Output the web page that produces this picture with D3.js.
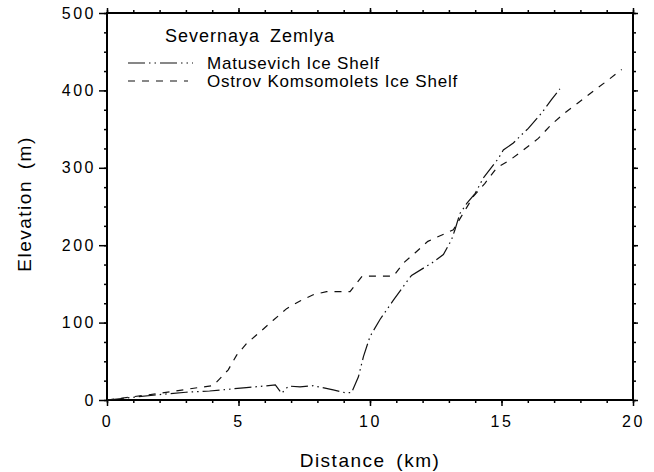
<!DOCTYPE html>
<html>
<head>
<meta charset="utf-8">
<script src="https://cdn.jsdelivr.net/npm/d3@7"></script>
<style>
  body { margin: 0; background: #fff; }
  svg { font-family: "Liberation Sans", Arial, Helvetica, sans-serif; }
</style>
</head>
<body>
<div id="chart"></div>
<script>
// Matusevich Ice Shelf profile
var matDist = [0, 2.0, 3.0, 3.9, 5.3, 6.4, 6.64, 6.9, 7.34, 7.84, 8.6, 9.05, 9.3, 9.56, 9.75, 10.0, 10.38, 10.89, 11.4, 11.58, 12.35, 12.79, 13.1, 13.23, 13.42, 13.68, 14.0, 14.31, 14.88, 15.07, 15.45, 15.77, 16.02, 16.53, 16.9, 17.22];
var matElev = [0, 7, 10, 11.6, 16, 19.4, 8.6, 18, 17, 18.5, 13, 9.5, 9.5, 30, 56, 82, 104, 129, 153, 161, 177, 188, 207, 220, 241, 254, 267, 287, 312, 323, 332, 343, 351, 371, 388, 402];

// Ostrov Komsomolets Ice Shelf profile
var ostDist = [0, 2.0, 3.54, 4.04, 4.61, 4.93, 5.31, 5.82, 6.32, 6.83, 7.34, 7.84, 8.35, 9.24, 9.49, 9.7, 10.89, 11.27, 11.71, 12.2, 12.85, 13.17, 13.93, 14.37, 14.82, 15.32, 15.83, 16.4, 16.9, 17.41, 17.92, 18.49, 19.0, 19.57];
var ostElev = [0, 8.6, 16.4, 18.5, 39, 58, 73, 88, 103, 118, 128, 136, 140, 140, 151, 160, 160, 177, 190, 205, 215, 220, 263, 280, 300, 310, 323, 338, 356, 371, 384, 399, 412, 427];

var seriesNames = ["Matusevich Ice Shelf", "Ostrov Komsomolets Ice Shelf"];
var legendTitle = "Severnaya Zemlya";
var xTicks = [0, 5, 10, 15, 20];
var yTicks = [0, 100, 200, 300, 400, 500];
var xMinor = d3.range(0, 21, 1);
var yMinor = d3.range(0, 501, 25);

var width = 654, height = 472;
var margin = {left: 107, right: 21, top: 13, bottom: 72};

var svg = d3.select("#chart").append("svg")
    .attr("width", width)
    .attr("height", height);

var x = d3.scaleLinear().domain([0, 20]).range([margin.left, width - margin.right]);
var y = d3.scaleLinear().domain([0, 500]).range([height - margin.bottom, margin.top]);

var dashMat = "17,4,1.5,4,1.5,4";
var dashOst = "7,7";

// minor ticks on all four sides
function minorAxis(axis, scale, vals) {
    return axis(scale).tickValues(vals).tickSize(3).tickFormat("");
}
svg.append("g").attr("transform", "translate(0," + y(0) + ")").call(minorAxis(d3.axisBottom, x, xMinor));
svg.append("g").attr("transform", "translate(0," + y(500) + ")").call(minorAxis(d3.axisTop, x, xMinor));
svg.append("g").attr("transform", "translate(" + x(0) + ",0)").call(minorAxis(d3.axisLeft, y, yMinor));
svg.append("g").attr("transform", "translate(" + x(20) + ",0)").call(minorAxis(d3.axisRight, y, yMinor));

// major ticks + labels
svg.append("g")
    .attr("transform", "translate(0," + y(0) + ")")
    .call(d3.axisBottom(x).tickValues(xTicks).tickSize(6).tickPadding(10).tickFormat(d3.format("d")));
svg.append("g").attr("transform", "translate(0," + y(500) + ")")
    .call(d3.axisTop(x).tickValues(xTicks).tickSize(5).tickFormat(""));
svg.append("g")
    .attr("transform", "translate(" + x(0) + ",0)")
    .call(d3.axisLeft(y).tickValues(yTicks).tickSize(8).tickPadding(3).tickFormat(d3.format("d")));
svg.append("g").attr("transform", "translate(" + x(20) + ",0)")
    .call(d3.axisRight(y).tickValues(yTicks).tickSize(5).tickFormat(""));

svg.selectAll(".domain").remove();
svg.selectAll(".tick line").attr("stroke", "#000").attr("stroke-width", 1.5);
svg.selectAll(".tick text")
    .attr("fill", "#000")
    .style("font-size", "16px")
    .style("letter-spacing", "2.5px");

// frame
svg.append("rect")
    .attr("x", x(0)).attr("y", y(500))
    .attr("width", x(20) - x(0)).attr("height", y(0) - y(500))
    .attr("fill", "none").attr("stroke", "#000").attr("stroke-width", 2);

// lines
var line = d3.line().x(d => x(d[0])).y(d => y(d[1]));
var matData = matDist.map((d, i) => [d, matElev[i]]);
var ostData = ostDist.map((d, i) => [d, ostElev[i]]);

svg.append("path").datum(ostData)
    .attr("d", line).attr("fill", "none")
    .attr("stroke", "#111").attr("stroke-width", 1.2)
    .attr("stroke-dasharray", dashOst);

svg.append("path").datum(matData)
    .attr("d", line).attr("fill", "none")
    .attr("stroke", "#111").attr("stroke-width", 1.2)
    .attr("stroke-dasharray", dashMat);

// axis titles
svg.append("text")
    .attr("x", (x(0) + x(20)) / 2).attr("y", 467)
    .attr("text-anchor", "middle")
    .style("font-size", "19px").style("letter-spacing", "1.5px").style("word-spacing", "4px")
    .text("Distance (km)");

svg.append("text")
    .attr("transform", "translate(31," + 204 + ") rotate(-90)")
    .attr("text-anchor", "middle")
    .style("font-size", "19px").style("letter-spacing", "1.5px").style("word-spacing", "4px")
    .text("Elevation (m)");

// legend
svg.append("text")
    .attr("x", 165).attr("y", 42)
    .style("font-size", "18px").style("letter-spacing", "1px").style("word-spacing", "4px")
    .text(legendTitle);

var legendRows = [{name: seriesNames[0], dash: dashMat, y: 63, x2: 193},
                  {name: seriesNames[1], dash: dashOst, y: 81, x2: 188}];
var lg = svg.append("g").selectAll("g").data(legendRows).enter().append("g");
lg.append("line")
    .attr("x1", 128).attr("x2", d => d.x2)
    .attr("y1", d => d.y).attr("y2", d => d.y)
    .attr("stroke", "#111").attr("stroke-width", 1.2)
    .attr("stroke-dasharray", d => d.dash);
lg.append("text")
    .attr("x", 207).attr("y", d => d.y + 6)
    .style("font-size", "17px").style("letter-spacing", "0.8px")
    .text(d => d.name);
</script>
</body>
</html>
